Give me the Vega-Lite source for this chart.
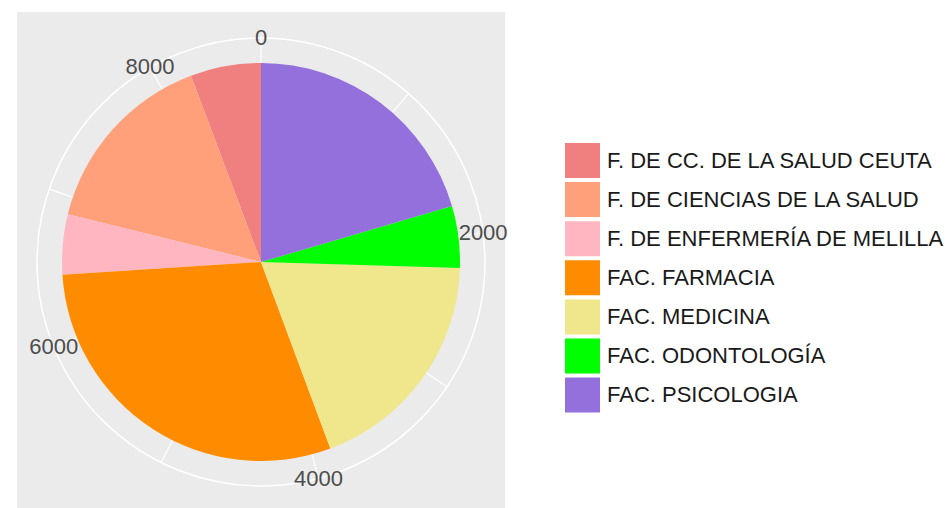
{
  "$schema": "https://vega.github.io/schema/vega-lite/v6.json",
  "width": 488,
  "height": 500,
  "padding": {"left": 17, "top": 12, "right": 0, "bottom": 0},
  "autosize": {"type": "pad"},
  "background": "white",
  "view": {"fill": "#EBEBEB", "stroke": null},
  "config": {"font": "Liberation Sans"},
  "layer": [
    {
      "data": {"values": [{"tick": 0}, {"tick": 1000}, {"tick": 2000}, {"tick": 3000}, {"tick": 4000}, {"tick": 5000}, {"tick": 6000}, {"tick": 7000}, {"tick": 8000}]},
      "mark": {"type": "arc", "radius": 224, "radius2": 0, "stroke": "white", "strokeWidth": 1.2, "fillOpacity": 0},
      "encoding": {
        "theta": {"field": "tick", "type": "quantitative", "stack": null, "scale": {"domain": [0, 8720]}},
        "theta2": {"field": "tick"}
      }
    },
    {
      "data": {"values": [{"start": 0, "end": 8720}]},
      "mark": {"type": "arc", "radius": 224, "radius2": 0, "stroke": "white", "strokeWidth": 1.5, "fillOpacity": 0},
      "encoding": {
        "theta": {"field": "start", "type": "quantitative", "stack": null, "scale": {"domain": [0, 8720]}},
        "theta2": {"field": "end"}
      }
    },
    {
      "data": {"values": [
        {"facultad": "F. DE CC. DE LA SALUD CEUTA", "n": 499},
        {"facultad": "F. DE CIENCIAS DE LA SALUD", "n": 1344},
        {"facultad": "F. DE ENFERMERÍA DE MELILLA", "n": 426},
        {"facultad": "FAC. FARMACIA", "n": 2585},
        {"facultad": "FAC. MEDICINA", "n": 1645},
        {"facultad": "FAC. ODONTOLOGÍA", "n": 436},
        {"facultad": "FAC. PSICOLOGIA", "n": 1785}
      ]},
      "mark": {"type": "arc", "radius": 199},
      "encoding": {
        "theta": {"field": "n", "type": "quantitative", "stack": true, "scale": {"domain": [0, 8720]}},
        "order": {"field": "facultad", "type": "ordinal", "sort": "descending"},
        "color": {
          "field": "facultad",
          "type": "nominal",
          "scale": {
            "domain": ["F. DE CC. DE LA SALUD CEUTA", "F. DE CIENCIAS DE LA SALUD", "F. DE ENFERMERÍA DE MELILLA", "FAC. FARMACIA", "FAC. MEDICINA", "FAC. ODONTOLOGÍA", "FAC. PSICOLOGIA"],
            "range": ["#F08080", "#FFA07A", "#FFB6C1", "#FF8C00", "#F0E68C", "#00FF00", "#9370DB"]
          },
          "legend": {
            "title": null,
            "orient": "none",
            "legendX": 548,
            "legendY": 131,
            "symbolType": "square",
            "symbolSize": 1225,
            "symbolStrokeWidth": 0,
            "symbolOpacity": 1,
            "labelFontSize": 22,
            "labelColor": "#1A1A1A",
            "labelOffset": 7,
            "rowPadding": 4.1,
            "labelLimit": 500
          }
        }
      }
    },
    {
      "data": {"values": [{"tick": 0}, {"tick": 2000}, {"tick": 4000}, {"tick": 6000}, {"tick": 8000}]},
      "mark": {"type": "text", "radius": 224, "fontSize": 22, "color": "#4D4D4D", "align": "center", "baseline": "middle"},
      "encoding": {
        "theta": {"field": "tick", "type": "quantitative", "stack": null, "scale": {"domain": [0, 8720]}},
        "text": {"field": "tick", "type": "quantitative", "format": "d"}
      }
    }
  ]
}
